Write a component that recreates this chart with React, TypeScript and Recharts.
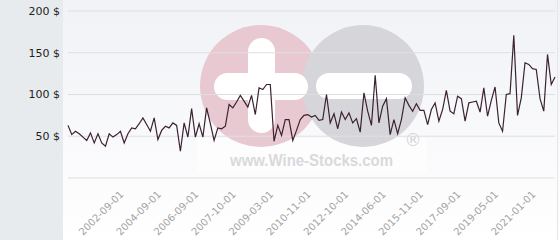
import React from "react";
import { LineChart, Line, XAxis, YAxis, CartesianGrid } from "recharts";

const prices = [
  63, 52, 56, 53, 49, 45, 54, 42, 53, 42,
  38, 53, 49, 52, 56, 42, 53, 60, 59, 65,
  72, 64, 56, 72, 46, 57, 62, 60, 66, 63,
  32, 66, 49, 83, 49, 65, 49, 84, 65, 45,
  60, 59, 62, 88, 84, 91, 99, 92, 85, 99,
  76, 108, 106, 112, 112, 44, 63, 51, 70, 70,
  45, 57, 70, 75, 76, 73, 75, 69, 70, 100,
  66, 77, 59, 79, 70, 78, 66, 71, 55, 102,
  80, 63, 123, 66, 86, 95, 52, 70, 53, 70,
  96, 87, 80, 89, 81, 81, 64, 82, 90, 68,
  82, 105, 80, 77, 98, 95, 68, 90, 91, 92,
  79, 108, 74, 93, 109, 66, 56, 100, 101, 171,
  75, 96, 138, 136, 131, 130, 95, 80, 148, 112, 121,
];

const tickIndex = [15, 25, 35, 45, 55, 65, 75, 85, 95, 105, 115, 125];
const tickLabels = [
  "2002-09-01", "2004-09-01", "2006-09-01", "2007-10-01", "2009-03-01", "2010-11-01",
  "2012-10-01", "2014-06-01", "2015-11-01", "2017-09-01", "2019-05-01", "2021-01-01",
];
const yTicks = [0, 50, 100, 150, 200];

const data = prices.map((p, i) => ({ i, p }));

const W = 560;
const H = 240;
const FONT = "'DejaVu Sans', sans-serif";

function DateTick(props: any) {
  const { x, y, payload } = props;
  const k = tickIndex.indexOf(payload.value);
  const ty = y + 9;
  return (
    <text x={x} y={ty} transform={`rotate(-45 ${x} ${ty})`} textAnchor="end"
      fontSize={10} fontFamily={FONT} fill="#a3a3a3">
      {tickLabels[k]}
    </text>
  );
}

// watermark behind the plot
function Watermark() {
  return (
    <svg width={W} height={H} style={{ position: "absolute", left: 0, top: 0 }}>
      <rect x={197} y={138} width={230} height={35} fill="#ffffff" opacity={0.55} />
      <circle cx={261} cy={86} r={61} fill="#e8c9d1" />
      <circle cx={363} cy={86} r={61} fill="#d6d6da" />
      <rect x={248} y={38} width={27} height={95} rx={13.5} fill="#ffffff" />
      <rect x={214} y={73} width={94} height={27} rx={13.5} fill="#ffffff" />
      <rect x={316} y={73} width={96} height={26} rx={13} fill="#ffffff" />
      <text x={230} y={166} fontSize={16} fontWeight="bold" fontFamily="'Liberation Sans', Arial, sans-serif"
        fill="#d9d9dc" textLength={163} lengthAdjust="spacingAndGlyphs">www.Wine-Stocks.com</text>
      <text x={413} y={146} fontSize={17} textAnchor="middle" fontFamily="'DejaVu Sans', sans-serif"
        fill="#d4d4d8">®</text>
    </svg>
  );
}

export default function App() {
  return (
    <div style={{ position: "fixed", left: 0, top: 0, width: W, height: H, overflow: "hidden" }}>
      <div style={{ position: "absolute", left: 0, top: 0, width: 63, height: H, background: "#e7ebee" }} />
      <div style={{
        position: "absolute", left: 63, top: 0, width: W - 63, height: H,
        background: "linear-gradient(#f1f2f6, #ffffff)",
      }} />
      <div style={{ position: "absolute", left: 557, top: 0, width: 1, height: H, background: "#e6e6ea" }} />
      <Watermark />
      <div style={{ position: "absolute", left: 0, top: 0 }}>
        <LineChart width={W} height={H} data={data} margin={{ top: 11, right: 5, bottom: 0, left: 0 }}>
          <CartesianGrid stroke="#dddfe5" vertical={false} />
          <XAxis dataKey="i" type="number" domain={[0, prices.length - 1]} ticks={tickIndex} interval={0}
            axisLine={false} tickLine={false} height={62} tick={<DateTick />} />
          <YAxis domain={[0, 200]} ticks={yTicks} width={68} axisLine={false} tickLine={false}
            tick={{ fontSize: 11, fontFamily: FONT, fill: "#222" }}
            tickFormatter={(v: number) => (v === 0 ? "" : `${v} $`)} />
          <Line dataKey="p" type="linear" stroke="#3b2230" strokeWidth={1.2} dot={false}
            isAnimationActive={false} />
        </LineChart>
      </div>
    </div>
  );
}
